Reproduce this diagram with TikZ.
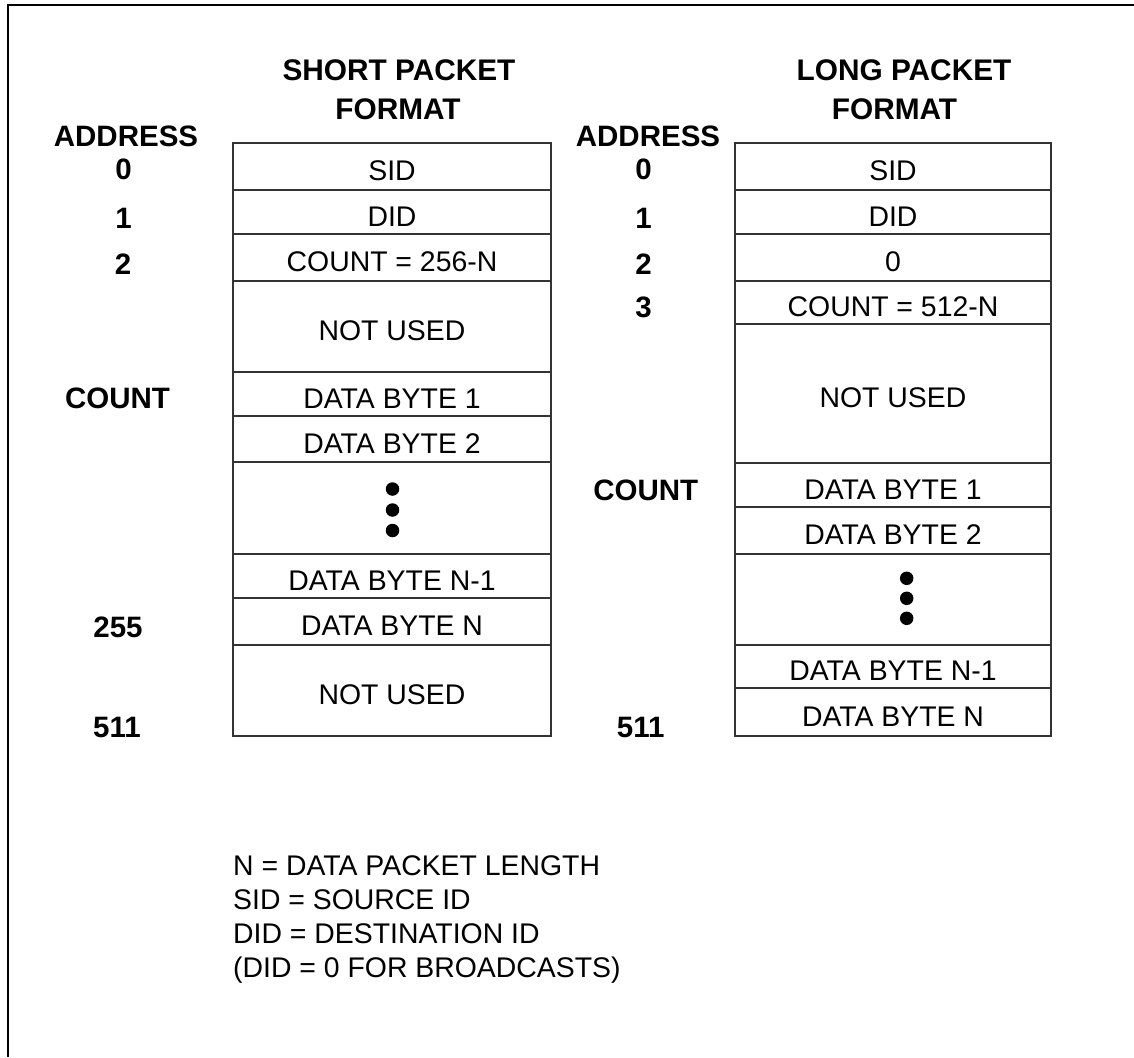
\documentclass[tikz,border=0pt]{standalone}
\usepackage{fontspec}
\setmainfont{Liberation Sans}
\begin{document}
\begin{tikzpicture}[x=1pt,y=-1pt,
  cell/.style={draw=black!80, line width=1.2pt, inner sep=0pt, text height=28pt, text depth=0pt, font=\fontsize{28.4}{33}\selectfont},
  scell/.style={cell, minimum width=318pt},
  lcell/.style={cell, minimum width=316pt},
  lbl/.style={anchor=base, inner sep=0pt, font=\bfseries\fontsize{29.5}{35}\selectfont},
  ttl/.style={anchor=base, inner sep=0pt, font=\bfseries\fontsize{29.8}{35}\selectfont},
  leg/.style={anchor=base west, inner sep=0pt, font=\fontsize{28.4}{33}\selectfont},
  dotc/.style={circle, fill=black, draw=none, inner sep=0pt, minimum size=13.5pt}]
\useasboundingbox (0,0) rectangle (1134,1057);
% frame
\draw[line width=2.2pt] (8,1057) -- (8,5) -- (1134,5);

% titles
\node[ttl] (st1) at (399,80) {SHORT PACKET};
\node[ttl] (st2) at (398,119) {FORMAT};
\node[ttl] (lt1) at (904,80) {LONG PACKET};
\node[ttl] (lt2) at (894.5,119) {FORMAT};

% short packet box
\node[scell, minimum height=47pt] (s1) at (392,166.5) {SID};
\node[scell, minimum height=44pt] (s2) at (392,212) {DID};
\node[scell, minimum height=47pt] (s3) at (392,257.5) {COUNT = 256-N};
\node[scell, minimum height=91pt] (s4) at (392,326.5) {NOT USED};
\node[scell, minimum height=44pt] (s5) at (392,394) {DATA BYTE 1};
\node[scell, minimum height=46pt] (s6) at (392,439) {DATA BYTE 2};
\node[scell, minimum height=92pt] (s7) at (392,508) {};
\node[scell, minimum height=44pt] (s8) at (392,576) {DATA BYTE N-1};
\node[scell, minimum height=47pt] (s9) at (392,621.5) {DATA BYTE N};
\node[scell, minimum height=91pt] (s10) at (392,690.5) {NOT USED};
\node[dotc] (sd1) at (392.5,489) {};
\node[dotc] (sd2) at (392.5,510) {};
\node[dotc] (sd3) at (392.5,530.5) {};

% long packet box
\node[lcell, minimum height=47pt] (l1) at (893,166.5) {SID};
\node[lcell, minimum height=44pt] (l2) at (893,212) {DID};
\node[lcell, minimum height=47pt] (l3) at (893,257.5) {0};
\node[lcell, minimum height=43pt] (l4) at (893,302.5) {COUNT = 512-N};
\node[lcell, minimum height=139pt] (l5) at (893,393.5) {NOT USED};
\node[lcell, minimum height=44pt] (l6) at (893,485) {DATA BYTE 1};
\node[lcell, minimum height=47pt] (l7) at (893,530.5) {DATA BYTE 2};
\node[lcell, minimum height=91pt] (l8) at (893,599.5) {};
\node[lcell, minimum height=43pt] (l9) at (893,666.5) {DATA BYTE N-1};
\node[lcell, minimum height=48pt] (l10) at (893,712) {DATA BYTE N};
\node[dotc] (ld1) at (906.7,578.3) {};
\node[dotc] (ld2) at (906.7,598.3) {};
\node[dotc] (ld3) at (906.7,618.3) {};

% short address labels
\node[lbl] (sa) at (126,146) {ADDRESS};
\node[lbl] (sa0) at (123.5,179) {0};
\node[lbl] (sa1) at (123.5,228) {1};
\node[lbl] (sa2) at (123,274) {2};
\node[lbl] (sac) at (117.5,408) {COUNT};
\node[lbl] (sa255) at (118,637) {255};
\node[lbl] (sa511) at (117,737) {511};

% long address labels
\node[lbl] (la) at (648,146) {ADDRESS};
\node[lbl] (la0) at (643.6,179) {0};
\node[lbl] (la1) at (643.6,228) {1};
\node[lbl] (la2) at (643.6,274) {2};
\node[lbl] (la3) at (643.6,317) {3};
\node[lbl] (lac) at (645.7,500) {COUNT};
\node[lbl] (la511) at (640.7,737) {511};

% legend
\node[leg] (g1) at (233,875) {N = DATA PACKET LENGTH};
\node[leg] (g2) at (233,909) {SID = SOURCE ID};
\node[leg] (g3) at (233,943) {DID = DESTINATION ID};
\node[leg] (g4) at (233,977) {(DID = 0 FOR BROADCASTS)};
\end{tikzpicture}
\end{document}
